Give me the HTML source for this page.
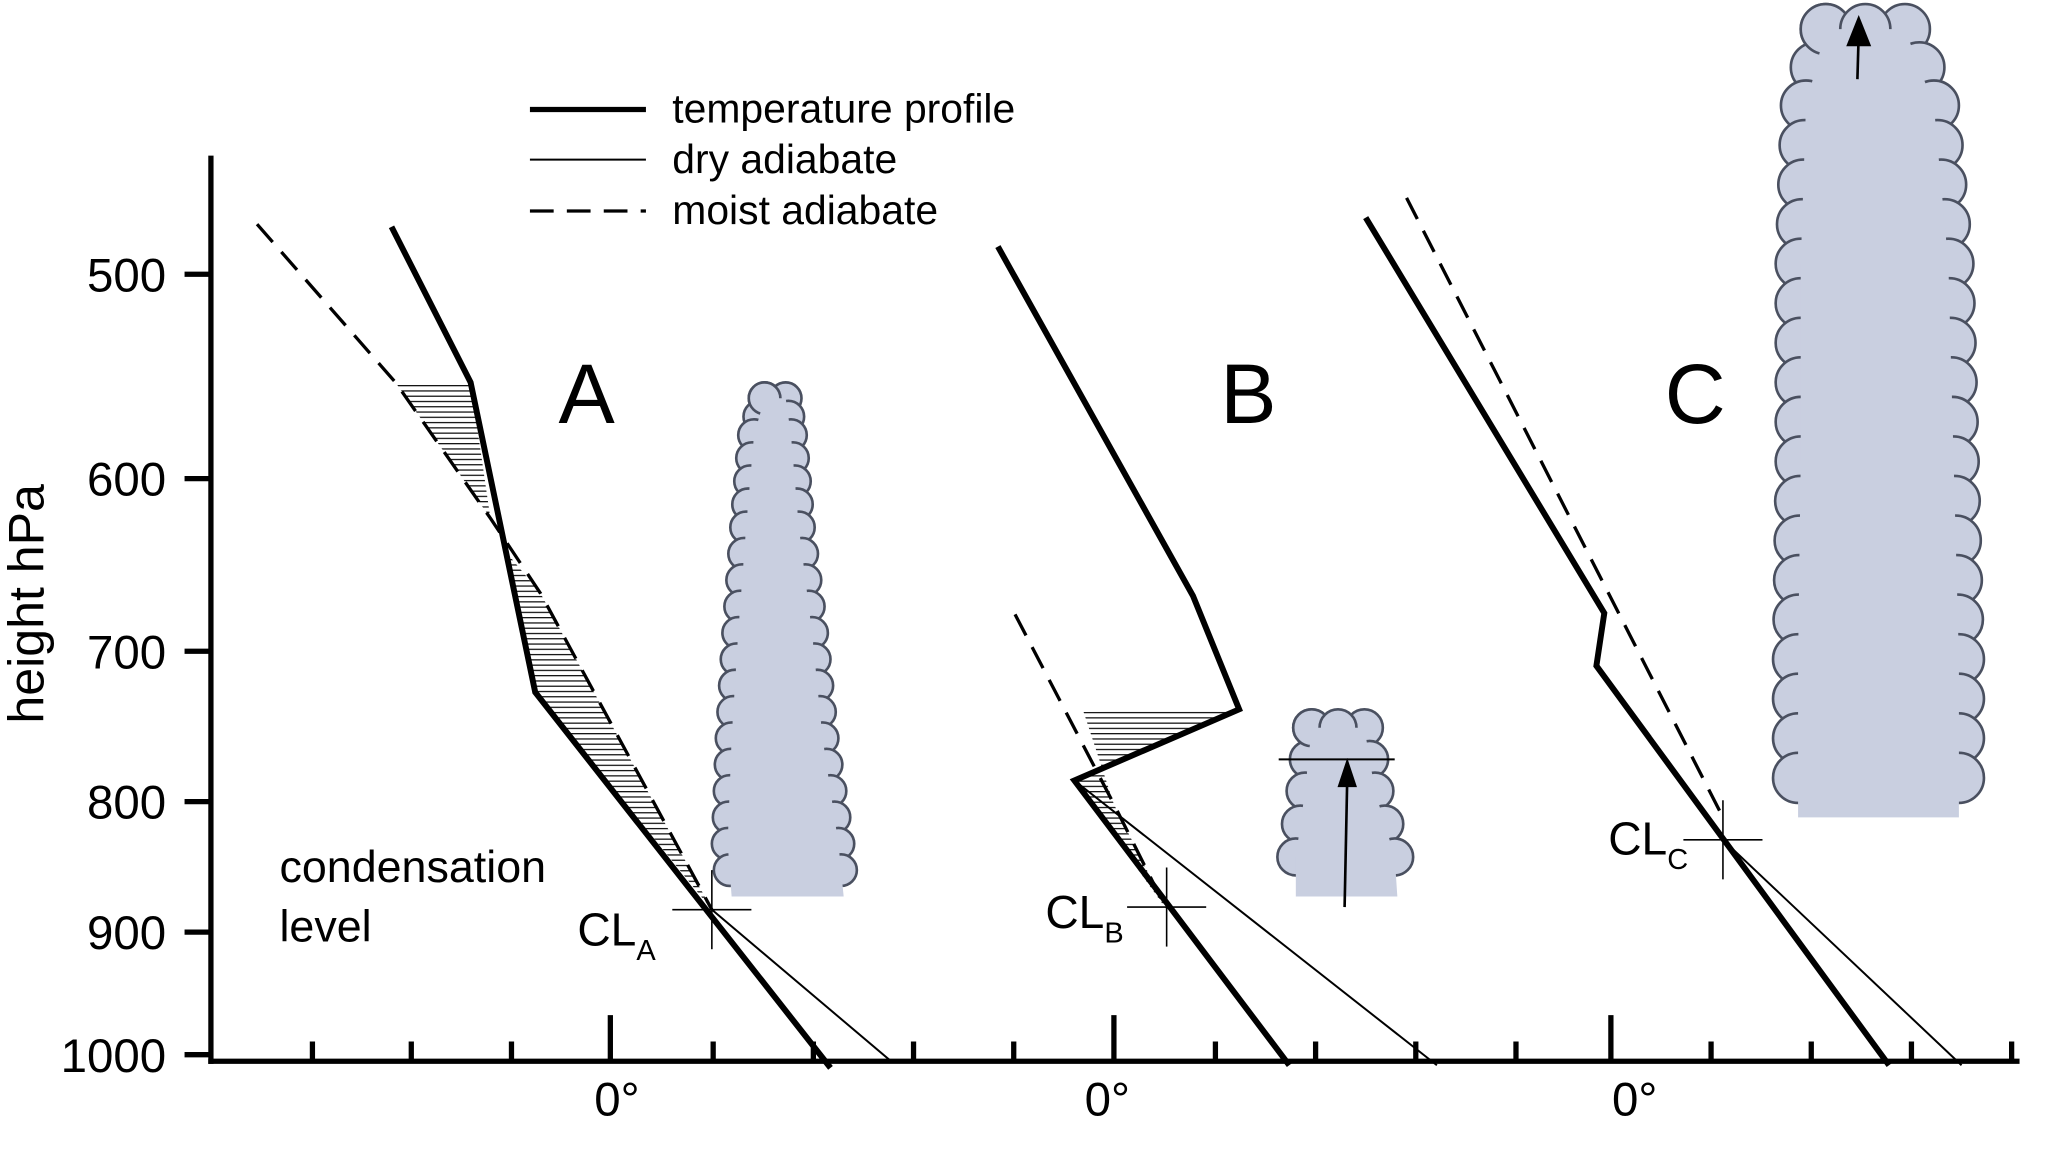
<!DOCTYPE html>
<html><head><meta charset="utf-8"><style>
html,body{margin:0;padding:0;background:#fff;}
svg{display:block}
text{font-family:"Liberation Sans",sans-serif;fill:#000}
</style></head><body>
<svg id="s" width="2067" height="1151" viewBox="0 0 1568 873" xmlns="http://www.w3.org/2000/svg">
<defs>
<pattern id="h" width="6" height="4" patternUnits="userSpaceOnUse"><line x1="0" y1="0.5" x2="6" y2="0.5" stroke="#000" stroke-width="0.9"/></pattern>
</defs>
<g id="clouds"></g>
<polygon points="300,290 357,290 372,393" fill="url(#h)"/>
<polygon points="385,420 406,525 540,690 410,450" fill="url(#h)"/>
<polygon points="822,540 938,538 815,592 885,690 845,610" fill="url(#h)"/>
<g stroke="#000" stroke-width="4" fill="none">
<line x1="160" y1="118" x2="160" y2="807"/>
<line x1="158" y1="805" x2="1532" y2="805"/>
<line x1="140" y1="208" x2="160" y2="208"/>
<line x1="140" y1="363" x2="160" y2="363"/>
<line x1="140" y1="494" x2="160" y2="494"/>
<line x1="140" y1="608" x2="160" y2="608"/>
<line x1="140" y1="707" x2="160" y2="707"/>
<line x1="140" y1="800" x2="160" y2="800"/>
</g>
<g stroke="#000" stroke-width="4" id="ticks"></g>
<g font-size="36" text-anchor="end">
<text x="126" y="221">500</text><text x="126" y="376">600</text><text x="126" y="507">700</text>
<text x="126" y="621">800</text><text x="126" y="720">900</text><text x="126" y="813">1000</text>
</g>
<text transform="translate(33,458) rotate(-90)" font-size="38" text-anchor="middle">height hPa</text>
<g font-size="36" text-anchor="middle"><text x="468" y="846">0°</text><text x="840" y="846">0°</text><text x="1240" y="846">0°</text></g>
<line x1="402" y1="83" x2="490" y2="83" stroke="#000" stroke-width="4"/>
<line x1="402" y1="121" x2="490" y2="121" stroke="#000" stroke-width="1.5"/>
<line x1="402" y1="160" x2="490" y2="160" stroke="#000" stroke-width="2.5" stroke-dasharray="18,10"/>
<g font-size="31"><text x="510" y="93">temperature profile</text><text x="510" y="131">dry adiabate</text><text x="510" y="170">moist adiabate</text></g>
<g font-size="64" text-anchor="middle"><text x="445" y="321">A</text><text x="947" y="321">B</text><text x="1286" y="321">C</text></g>
<g font-size="34"><text x="212" y="669">condensation</text><text x="212" y="714">level</text></g>
<g fill="none" stroke="#000">
<polyline points="297,172 357,290 406,525 630,810" stroke-width="4.5"/>
<polyline points="540,690 676,805" stroke-width="1.5"/>
<polyline points="195,170 300,290 372,393 410,450 540,690" stroke-width="2.5" stroke-dasharray="18,10"/>
<polyline points="757,187 905,452 940,538 815,592 978,808" stroke-width="4.5"/>
<polyline points="815,592 1090,808" stroke-width="1.5"/>
<polyline points="770,466 845,610 885,690" stroke-width="2.5" stroke-dasharray="18,10"/>
<polyline points="1036,165 1217,465 1211,505 1433,808" stroke-width="4.5"/>
<polyline points="1307,637 1488,808" stroke-width="1.5"/>
<polyline points="1067,150 1307,620" stroke-width="2.5" stroke-dasharray="18,10"/>
<g stroke-width="1.2">
<line x1="510" y1="690" x2="570" y2="690"/><line x1="540" y1="660" x2="540" y2="720"/>
<line x1="855" y1="688" x2="915" y2="688"/><line x1="885" y1="658" x2="885" y2="718"/>
<line x1="1277" y1="637" x2="1337" y2="637"/><line x1="1307" y1="607" x2="1307" y2="667"/>
</g>
</g>
<g font-size="35"><text x="438" y="717">CL<tspan font-size="22" dy="11">A</tspan></text>
<text x="793" y="704">CL<tspan font-size="22" dy="11">B</tspan></text>
<text x="1220" y="648">CL<tspan font-size="22" dy="11">C</tspan></text></g>
<g id="arrows" stroke="#000" stroke-width="2" fill="#000">
<line x1="1020" y1="688" x2="1022" y2="590"/><polygon points="1022,578 1016,596 1028,596"/>
<line x1="970" y1="576" x2="1058" y2="576" stroke-width="1.5"/>
<line x1="1409" y1="60" x2="1410" y2="25"/><polygon points="1410,14 1402,34 1418,34"/>
</g>
</svg>
<script>
var NS="http://www.w3.org/2000/svg";
var t=document.getElementById("ticks");
[237,312,388,541,617,693,769,922,998,1074,1150,1298,1374,1450,1526].forEach(function(x){var l=document.createElementNS(NS,"line");l.setAttribute("x1",x);l.setAttribute("x2",x);l.setAttribute("y1",790);l.setAttribute("y2",805);t.appendChild(l);});
[463,845,1222].forEach(function(x){var l=document.createElementNS(NS,"line");l.setAttribute("x1",x);l.setAttribute("x2",x);l.setAttribute("y1",770);l.setAttribute("y2",805);t.appendChild(l);});
var g=document.getElementById("clouds");
function cloud(L,R,r){
 var pts=L.concat(R.slice().reverse());
 var all=[];function edge(a){for(var i=0;i<a.length-1;i++){var p=a[i],q=a[i+1];var d=Math.hypot(q[0]-p[0],q[1]-p[1]);var n=Math.max(1,Math.round(d/(r*1.5)));for(var k=0;k<n;k++)all.push([p[0]+(q[0]-p[0])*k/n,p[1]+(q[1]-p[1])*k/n]);}}
 edge(L);edge(R);
 var top=[L[0],R[0]];edge(top);
 all.forEach(function(c){var e=document.createElementNS(NS,"circle");e.setAttribute("cx",c[0]);e.setAttribute("cy",c[1]);e.setAttribute("r",r);e.setAttribute("fill","#c9cfe0");e.setAttribute("stroke","#4a5060");e.setAttribute("stroke-width","2");g.appendChild(e);});
 var p=document.createElementNS(NS,"polygon");p.setAttribute("points",pts.map(function(a){return a.join(",")}).join(" "));p.setAttribute("fill","#c9cfe0");g.appendChild(p);
 var b=document.createElementNS(NS,"rect");var bl=L[L.length-1],br=R[R.length-1];b.setAttribute("x",bl[0]-r-2);b.setAttribute("y",bl[1]+5);b.setAttribute("width",br[0]-bl[0]+2*r+4);b.setAttribute("height",r+4);b.setAttribute("fill","#fff");g.appendChild(b);
}
cloud([[580,302],[572,330],[566,400],[560,480],[555,560],[552,640],[555,680]],[[596,302],[600,330],[606,400],[616,480],[624,560],[636,640],[640,680]],12);
cloud([[995,552],[990,600],[983,650],[983,680]],[[1035,552],[1043,600],[1058,650],[1060,680]],14);
cloud([[1385,22],[1370,80],[1366,200],[1366,350],[1364,500],[1364,620]],[[1445,22],[1467,80],[1478,200],[1482,350],[1486,500],[1486,620]],19);
</script>
</body></html>
